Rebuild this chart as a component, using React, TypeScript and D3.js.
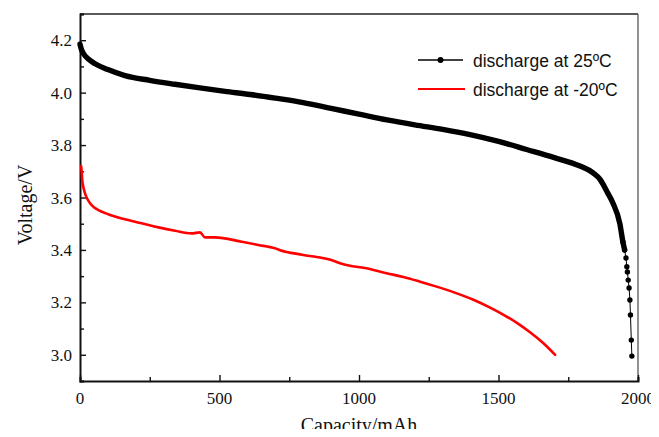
import * as d3 from 'd3';
import { useEffect, useRef } from 'react';

// discharge at 25ºC (capacity mAh, voltage V) - dense part, markers overlap into a thick line
const capacity25 = [0, 5, 15, 30, 54, 100, 161, 250, 340, 430, 520, 610, 700, 800, 900, 1000, 1100, 1200, 1300, 1398, 1500, 1601, 1700, 1792, 1839, 1864, 1875, 1890, 1910, 1935, 1946, 1952];
const voltage25 = [4.185, 4.165, 4.145, 4.128, 4.11, 4.088, 4.065, 4.047, 4.032, 4.018, 4.005, 3.993, 3.979, 3.962, 3.94, 3.918, 3.896, 3.877, 3.86, 3.84, 3.814, 3.783, 3.752, 3.72, 3.694, 3.669, 3.65, 3.62, 3.579, 3.5, 3.43, 3.4];
// tail of the 25ºC curve where single markers are visible
const capacity25Tail = [1946, 1952, 1957, 1960, 1962, 1965, 1968, 1971, 1973, 1976, 1978];
const voltage25Tail = [3.43, 3.4, 3.369, 3.336, 3.316, 3.285, 3.255, 3.209, 3.152, 3.056, 2.995];

// discharge at -20ºC
const capacityM20 = [4, 6, 8, 12, 18, 26, 36, 50, 66, 101, 161, 221, 281, 341, 400, 430, 448, 484, 580, 639, 699, 717, 800, 908, 932, 1039, 1099, 1159, 1219, 1278, 1338, 1410, 1470, 1529, 1575, 1613, 1660, 1703];
const voltageM20 = [3.72, 3.7, 3.667, 3.64, 3.616, 3.595, 3.578, 3.563, 3.552, 3.536, 3.517, 3.502, 3.486, 3.473, 3.463, 3.467, 3.448, 3.448, 3.431, 3.419, 3.406, 3.399, 3.381, 3.359, 3.349, 3.327, 3.311, 3.297, 3.279, 3.26, 3.239, 3.21, 3.18, 3.146, 3.115, 3.086, 3.045, 3.0];

const xTicks = [0, 500, 1000, 1500, 2000];
const yTicks = [3.0, 3.2, 3.4, 3.6, 3.8, 4.0, 4.2];
const legendLabels = ['discharge at 25ºC', 'discharge at -20ºC'];

const App = () => {
  const ref = useRef<SVGSVGElement>(null);

  useEffect(() => {
    const svg = d3.select(ref.current);
    svg.selectAll('*').remove();

    const width = 659;
    const height = 437;
    const margin = { top: 14, right: 21, bottom: 56, left: 80 };

    const x = d3.scaleLinear().domain([0, 2000]).range([margin.left, width - margin.right]);
    const y = d3.scaleLinear().domain([2.9, 4.3]).range([height - margin.bottom, margin.top]);

    const serif = '"Liberation Serif", "Times New Roman", serif';
    const sans = '"Liberation Sans", Arial, sans-serif';

    svg.append('rect').attr('width', width).attr('height', height).attr('fill', '#fff');

    // frame: top and right
    svg.append('line')
      .attr('x1', x(0)).attr('x2', x(2000)).attr('y1', y(4.3)).attr('y2', y(4.3))
      .attr('stroke', '#222').attr('stroke-width', 1.3);
    svg.append('line')
      .attr('x1', x(2000)).attr('x2', x(2000)).attr('y1', y(4.3)).attr('y2', y(2.9))
      .attr('stroke', '#555').attr('stroke-width', 1.3);

    // bottom axis, ticks inward
    const xAxis = svg.append('g').attr('transform', `translate(0, ${y(2.9)})`);
    xAxis.call(d3.axisBottom(x).tickValues(d3.range(0, 2001, 250)).tickSize(-4).tickFormat(() => ''));
    xAxis.call(g => g.selectAll('.tick line').attr('stroke', '#111').attr('stroke-width', 1.4)
      .attr('y2', (d: any) => (d % 500 === 0 ? -6 : -4)));
    xAxis.select('.domain').attr('stroke', '#111').attr('stroke-width', 2);
    xAxis.selectAll('.tick text').remove();
    xTicks.forEach(t => {
      svg.append('text')
        .attr('x', x(t)).attr('y', y(2.9) + 23)
        .attr('text-anchor', 'middle')
        .style('font-family', serif).style('font-size', '17px').attr('fill', '#111')
        .text(t);
    });

    // left axis, ticks inward
    const yAxis = svg.append('g').attr('transform', `translate(${x(0)}, 0)`);
    yAxis.call(d3.axisLeft(y).tickValues(d3.range(29, 44).map(v => v / 10)).tickSize(-4).tickFormat(() => ''));
    yAxis.call(g => g.selectAll('.tick line').attr('stroke', '#111').attr('stroke-width', 1.4)
      .attr('x2', (d: any) => (Math.round(d * 10) % 2 === 0 ? 6 : 4)));
    yAxis.select('.domain').attr('stroke', '#111').attr('stroke-width', 2);
    yAxis.selectAll('.tick text').remove();
    yTicks.forEach(t => {
      svg.append('text')
        .attr('x', x(0) - 8).attr('y', y(t) + 6)
        .attr('text-anchor', 'end')
        .style('font-family', serif).style('font-size', '17px').attr('fill', '#111')
        .text(t.toFixed(1));
    });

    // axis titles
    svg.append('text')
      .attr('x', (x(0) + x(2000)) / 2).attr('y', 432)
      .attr('text-anchor', 'middle')
      .style('font-family', serif).style('font-size', '20px').attr('fill', '#111')
      .text('Capacity/mAh');
    svg.append('text')
      .attr('transform', 'translate(32, 205) rotate(-90)')
      .attr('text-anchor', 'middle')
      .style('font-family', serif).style('font-size', '20px').attr('fill', '#111')
      .text('Voltage/V');

    const line = d3.line<number>()
      .x(d => x(d))
      .curve(d3.curveMonotoneX);

    // -20ºC curve
    svg.append('path')
      .attr('d', line.y((d, i) => y(voltageM20[i]))(capacityM20))
      .attr('fill', 'none').attr('stroke', '#ff0000').attr('stroke-width', 2.6)
      .attr('stroke-linecap', 'round');

    // 25ºC curve: overlapping markers -> thick line
    svg.append('path')
      .attr('d', line.y((d, i) => y(voltage25[i]))(capacity25))
      .attr('fill', 'none').attr('stroke', '#000').attr('stroke-width', 5.4)
      .attr('stroke-linecap', 'round').attr('stroke-linejoin', 'round');

    const tailLine = d3.line<number>().x(d => x(d)).y((d, i) => y(voltage25Tail[i]));
    svg.append('path')
      .attr('d', tailLine(capacity25Tail))
      .attr('fill', 'none').attr('stroke', '#000').attr('stroke-width', 1);
    svg.append('g').selectAll('circle')
      .data(capacity25Tail)
      .enter().append('circle')
      .attr('cx', d => x(d))
      .attr('cy', (d, i) => y(voltage25Tail[i]))
      .attr('r', 2.7)
      .attr('fill', '#000');

    // legend
    const legend = svg.append('g').attr('transform', 'translate(418, 60)');
    legend.append('line').attr('x1', 0).attr('x2', 45).attr('y1', 0).attr('y2', 0)
      .attr('stroke', '#000').attr('stroke-width', 1.5);
    legend.append('circle').attr('cx', 22.5).attr('cy', 0).attr('r', 3).attr('fill', '#000');
    legend.append('line').attr('x1', 0).attr('x2', 47).attr('y1', 29).attr('y2', 29)
      .attr('stroke', '#ff0000').attr('stroke-width', 2.2);
    legendLabels.forEach((label, i) => {
      legend.append('text')
        .attr('x', 55).attr('y', i * 29 + 6.5)
        .style('font-family', sans).style('font-size', '17.5px').attr('fill', '#111')
        .text(label);
    });
  }, []);

  return <svg ref={ref} width={659} height={437} style={{ display: 'block', margin: '-8px' }} />;
};

export default App;
